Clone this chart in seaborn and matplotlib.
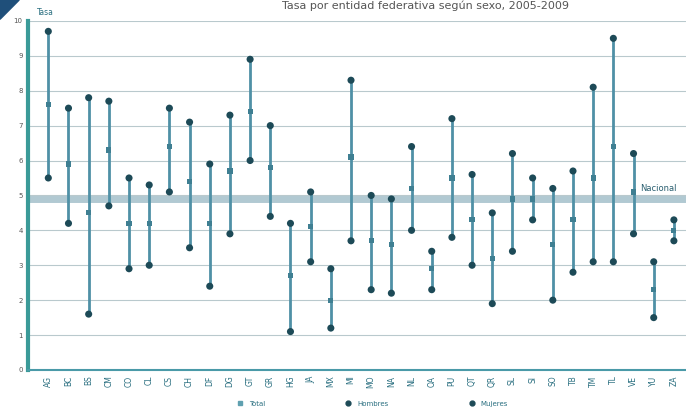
import pandas as pd
import numpy as np
import matplotlib.pyplot as plt
from matplotlib.patches import Polygon
import seaborn as sns

sns.set_theme(style="white")
plt.rcParams['font.family'] = ['DejaVu Sans']

# Entidades federativas (abreviaturas)
entidades = ['AG', 'BC', 'BS', 'CM', 'CO', 'CL', 'CS', 'CH', 'DF', 'DG', 'GT',
             'GR', 'HG', 'JA', 'MX', 'MI', 'MO', 'NA', 'NL', 'OA', 'PU', 'QT',
             'QR', 'SL', 'SI', 'SO', 'TB', 'TM', 'TL', 'VE', 'YU', 'ZA']

total = [7.6, 5.9, 4.5, 6.3, 4.2, 4.2, 6.4, 5.4, 4.2, 5.7, 7.4, 5.8, 2.7, 4.1,
         2.0, 6.1, 3.7, 3.6, 5.2, 2.9, 5.5, 4.3, 3.2, 4.9, 4.9, 3.6, 4.3, 5.5,
         6.4, 5.1, 2.3, 4.0]
hombres = [9.7, 7.5, 7.8, 7.7, 5.5, 5.3, 7.5, 7.1, 5.9, 7.3, 8.9, 7.0, 4.2, 5.1,
           2.9, 8.3, 5.0, 4.9, 6.4, 3.4, 7.2, 5.6, 4.5, 6.2, 5.5, 5.2, 5.7, 8.1,
           9.5, 6.2, 3.1, 4.3]
mujeres = [5.5, 4.2, 1.6, 4.7, 2.9, 3.0, 5.1, 3.5, 2.4, 3.9, 6.0, 4.4, 1.1, 3.1,
           1.2, 3.7, 2.3, 2.2, 4.0, 2.3, 3.8, 3.0, 1.9, 3.4, 4.3, 2.0, 2.8, 3.1,
           3.1, 3.9, 1.5, 3.7]
nacional = 4.9

series = ['Total', 'Hombres', 'Mujeres']

df = pd.DataFrame({'entidad': entidades, 'Total': total,
                   'Hombres': hombres, 'Mujeres': mujeres})
df['pos'] = np.arange(len(df))
long_df = df.melt(id_vars=['entidad', 'pos'], value_vars=series,
                  var_name='serie', value_name='tasa')

fig = plt.figure(figsize=(6.86, 4.11), dpi=100)
ax = fig.add_axes([0.041, 0.0998, 0.959, 0.8494])

# grid
for v in range(0, 11):
    ax.axhline(v, color='#b9c9cd', lw=0.8, zorder=0)
ax.axhline(nacional, color='#a9c3cd', lw=5, alpha=0.9, zorder=0.5)

# rangos
ax.vlines(df['pos'], df[['Hombres', 'Mujeres']].min(axis=1),
          df[['Hombres', 'Mujeres']].max(axis=1),
          color='#4f90a6', lw=2, zorder=1)

sns.scatterplot(data=long_df, x='pos', y='tasa', hue='serie', style='serie',
                hue_order=series, style_order=series,
                palette={'Total': '#3f7f92', 'Hombres': '#1d4a57', 'Mujeres': '#1d4a57'},
                markers={'Total': 's', 'Hombres': 'o', 'Mujeres': 'o'},
                size='serie', sizes={'Total': 14, 'Hombres': 26, 'Mujeres': 26},
                linewidth=0, ax=ax, zorder=3, legend=False)

ax.set_xlim(-1, 31.6)
ax.set_ylim(0, 10)
ax.set_yticks(range(0, 11))
ax.set_yticklabels([str(v) for v in range(0, 11)], fontsize=5, color='#555555')
ax.set_xticks(df['pos'])
ax.set_xticklabels(entidades, rotation=90, fontsize=5.5, color='#2a6f80')
ax.tick_params(axis='both', length=0, pad=4)
ax.set_xlabel('')
ax.set_ylabel('')

for s in ['top', 'right']:
    ax.spines[s].set_visible(False)
ax.spines['left'].set_color('#3a9a98')
ax.spines['left'].set_linewidth(3)
ax.spines['bottom'].set_color('#4a9aa8')
ax.spines['bottom'].set_linewidth(1.5)

ax.text(0.026, 1.012, 'Tasa', transform=ax.transAxes, fontsize=5.5,
        color='#2a6f80', ha='center', va='bottom')
ax.text(29.35, nacional + 0.3, 'Nacional', fontsize=6, color='#2a5f70',
        ha='left', va='center')

# leyenda
handles = [
    plt.Line2D([], [], marker='s', ls='', color='#5fa0b0', markersize=3),
    plt.Line2D([], [], marker='o', ls='', color='#1d4a57', markersize=3.5),
    plt.Line2D([], [], marker='o', ls='', color='#1d4a57', markersize=3.5),
]
fig.legend(handles, series, loc='lower center', bbox_to_anchor=(0.54, -0.005),
           ncol=3, frameon=False, fontsize=5, columnspacing=11,
           handletextpad=0.3, labelcolor='#2a6f80')

# titulo
fig.text(0.62, 0.998, 'Tasa por entidad federativa según sexo, 2005-2009',
         fontsize=8, color='#555555', ha='center', va='top')

# esquina decorativa
fig.patches.append(Polygon([[0, 1], [0.028, 1], [0, 0.953]], closed=True,
                           transform=fig.transFigure, color='#1f4f7a', figure=fig))

fig.savefig('out.png', dpi=100)
